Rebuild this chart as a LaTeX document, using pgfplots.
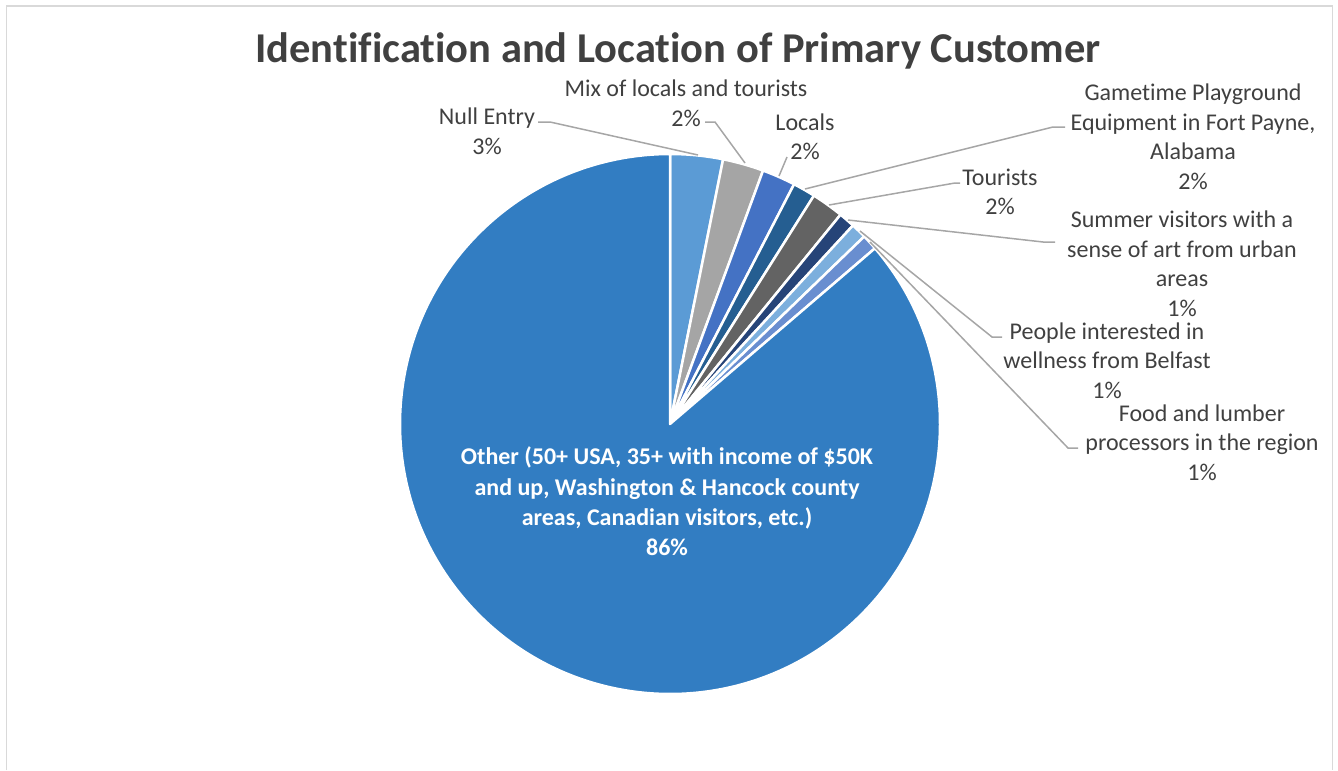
\documentclass[border=0pt]{standalone}
\usepackage{pgfplots}
\usepackage{pgfplotstable}
\pgfplotsset{compat=1.18}
\usepackage{fontspec}
\setmainfont[Ligatures=NoCommon]{Carlito}
\definecolor{c0}{HTML}{5B9BD5}
\definecolor{c1}{HTML}{A5A5A5}
\definecolor{c2}{HTML}{4472C4}
\definecolor{c3}{HTML}{255E91}
\definecolor{c4}{HTML}{636363}
\definecolor{c5}{HTML}{264478}
\definecolor{c6}{HTML}{7CAFDD}
\definecolor{c7}{HTML}{698ED0}
\definecolor{c8}{HTML}{327DC2}
\definecolor{txt}{HTML}{404040}
\definecolor{lead}{HTML}{A6A6A6}
\definecolor{frame}{HTML}{D9D9D9}
\pgfplotstableread{
name value
Null 3.15
Mix 2.45
Locals 2.00
Gametime 1.35
Tourists 1.93
Summer 0.97
People 0.93
Food 0.94
Other 86.28
}\slices
\begin{document}
\begin{tikzpicture}
\def\cum{90}
\foreach \i in {0,...,8}{%
  \pgfplotstablegetelem{\i}{value}\of\slices
  \pgfmathsetmacro{\tmpe}{\cum-3.6*\pgfplotsretval}%
  \expandafter\xdef\csname sa\i\endcsname{\cum}%
  \expandafter\xdef\csname ea\i\endcsname{\tmpe}%
  \xdef\cum{\tmpe}%
}
\begin{axis}[x=1pt,y=1pt,xmin=0,xmax=1338,ymin=0,ymax=765,y dir=reverse,
  hide axis,clip=false,scale only axis]
\path (axis cs:0,0) rectangle (axis cs:1338,765);
\draw[frame,line width=1.5pt] (axis cs:6.5,770) -- (axis cs:6.5,6) -- (axis cs:1332.5,6) -- (axis cs:1332.5,770);
\pgfplotsinvokeforeach{0,...,8}{%
  \filldraw[fill=c#1,draw=white,line width=2.5pt,line join=round]
    (axis cs:670,424) -- ++(\csname sa#1\endcsname:270pt)
    arc[start angle=\csname sa#1\endcsname,end angle=\csname ea#1\endcsname,radius=270pt] -- cycle;
}
\tikzset{lbl/.style={font=\fontsize{24}{29.5}\selectfont,text=txt,align=center,inner sep=0pt},
  ld/.style={draw=lead,line width=1.5pt}}
\node[font=\fontsize{42.5}{46}\selectfont\bfseries,text=txt,inner sep=0pt] at (axis cs:678,51) {Identification and Location of Primary Customer};
% leader lines
\draw[ld] (axis cs:538,122) -- (axis cs:550,122) -- (axis cs:698,155);
\draw[ld] (axis cs:705,122) -- (axis cs:715,122) -- (axis cs:745,163);
\draw[ld] (axis cs:787,157) -- (axis cs:779,176);
\draw[ld] (axis cs:1065,127) -- (axis cs:1053,127) -- (axis cs:805,189);
\draw[ld] (axis cs:960,183) -- (axis cs:955,183) -- (axis cs:829,205);
\draw[ld] (axis cs:1055,242) -- (axis cs:1043,242) -- (axis cs:848,220);
\draw[ld] (axis cs:1002,337) -- (axis cs:992,337) -- (axis cs:860,231);
\draw[ld] (axis cs:1078,448) -- (axis cs:1068,448) -- (axis cs:870,242);
% labels
\node[lbl] at (axis cs:487,131.5) {Null Entry\\3\%};
\node[lbl] at (axis cs:686,103.5) {Mix of locals and tourists\\2\%};
\node[lbl] at (axis cs:805,137) {Locals\\2\%};
\node[lbl] at (axis cs:1193,137) {Gametime Playground\\Equipment in Fort Payne,\\Alabama\\2\%};
\node[lbl] at (axis cs:1000,192) {Tourists\\2\%};
\node[lbl] at (axis cs:1182,264) {Summer visitors with a\\sense of art from urban\\areas\\1\%};
\node[lbl] at (axis cs:1107,360.5) {People interested in\\wellness from Belfast\\1\%};
\node[lbl] at (axis cs:1202,442.5) {Food and lumber\\processors in the region\\1\%};
\node[lbl,text=white,font=\fontsize{24}{30.3}\selectfont\bfseries] at (axis cs:667,501.5) {Other (50+ USA, 35+ with income of \$50K\\and up, Washington \& Hancock county\\areas, Canadian visitors, etc.)\\86\%};
\end{axis}
\end{tikzpicture}
\end{document}
